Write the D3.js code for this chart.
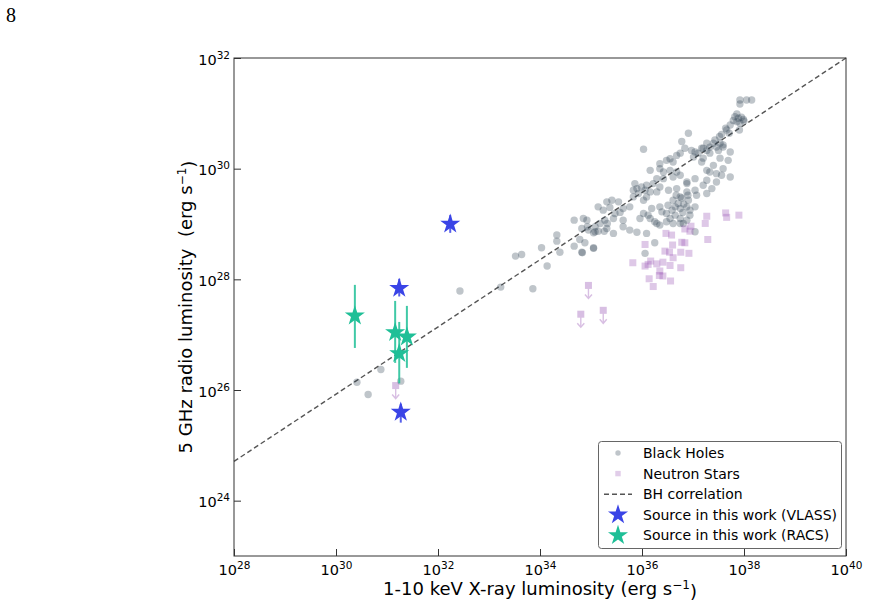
<!DOCTYPE html>
<html><head><meta charset="utf-8">
<script src="https://cdn.jsdelivr.net/npm/d3@7"></script>
<style>body{margin:0;background:#fff}svg{display:block}.s{font-family:"DejaVu Sans",sans-serif}</style>
</head><body><svg id="c" width="871" height="604"></svg>
<script>
// log10 luminosities [Lx, Lr]
const blackHoles = [
[37.92,31.24],[38.05,31.24],[38.15,31.24],[37.92,31.17],[37.82,30.94],[37.89,30.91],[37.95,30.93],[37.86,30.85],[37.92,30.82],[37.99,30.89],
[37.79,30.87],[37.91,30.70],[37.73,30.79],[37.66,30.70],[37.56,30.62],[37.52,30.58],[37.43,30.52],[37.40,30.46],[37.53,30.46],[37.59,30.39],
[37.73,30.30],[37.50,30.33],[37.33,30.39],[37.17,30.37],[37.10,30.28],[37.04,30.30],[37.01,30.21],[36.91,30.64],[36.78,30.49],[36.84,30.37],
[36.97,30.33],[37.20,30.19],[37.53,30.19],[37.69,30.15],[36.03,30.35],[36.68,30.24],[36.75,30.28],[36.55,30.18],[36.48,30.15],[36.61,30.12],
[36.35,30.09],[37.27,30.33],[37.17,30.12],[37.46,30.39],[37.40,30.06],[37.27,29.97],[37.33,29.94],[37.59,30.00],[37.46,29.91],[37.56,29.88],
[37.73,29.85],[36.16,29.97],[36.35,30.00],[36.42,29.94],[36.55,29.97],[36.68,29.94],[36.29,29.82],[36.22,29.73],[36.42,29.82],[36.61,29.85],
[36.75,29.88],[36.88,29.76],[37.04,29.82],[37.27,29.79],[37.20,29.70],[37.37,29.64],[37.27,29.55],[37.46,29.76],[37.07,29.52],[36.09,29.70],
[35.99,29.67],[35.90,29.64],[35.83,29.61],[36.06,29.61],[36.29,29.58],[36.35,29.67],[36.52,29.61],[36.68,29.64],[36.88,29.73],[36.88,29.58],
[37.04,29.61],[36.75,29.49],[36.61,29.43],[36.71,29.37],[36.65,29.31],[36.75,29.28],[36.88,29.31],[36.91,29.43],[37.04,29.31],[36.35,29.31],
[36.39,29.22],[36.19,29.28],[36.12,29.16],[36.03,29.19],[35.96,29.10],[36.16,29.10],[36.25,29.04],[36.35,28.98],[36.48,29.19],[36.55,29.10],
[36.65,29.16],[36.75,29.10],[36.94,29.16],[36.81,29.01],[36.61,29.01],[36.48,29.04],[35.76,29.31],[35.63,29.28],[35.47,29.19],[35.44,29.10],
[35.27,29.07],[35.18,29.01],[35.08,28.95],[34.95,28.89],[34.92,29.07],[34.82,28.92],[35.31,28.92],[35.63,28.95],[35.76,28.89],[35.41,29.43],
[35.54,29.40],[35.31,29.40],[35.14,29.31],[35.24,29.25],[35.83,29.49],[35.93,29.55],[36.09,29.49],[36.03,29.43],[36.16,29.58],[35.86,29.73],
[37.64,30.73],[37.71,30.64],[37.59,30.43],[37.27,30.46],[37.20,30.37],[37.33,30.28],[34.85,29.10],[35.08,28.86],[34.82,28.49],[35.05,28.56],
[35.44,28.83],[35.63,29.07],[35.90,28.85],[36.09,28.83],[36.25,28.66],[36.06,28.47],[36.29,29.01],[37.04,28.86],[36.88,29.07],[36.75,29.01],
[33.23,27.86],[33.86,27.83],[34.14,28.24],[33.52,28.42],[33.64,28.45],[34.03,28.57],[34.33,28.80],[34.33,28.69],[34.39,28.49],[34.67,28.60],
[34.78,28.72],[34.88,28.66],[34.83,28.48],[35.05,28.57],[34.67,29.07],[34.93,28.95],[35.05,28.84],[35.14,28.87],[35.26,28.87],[35.32,29.01],
[32.43,27.79],[30.88,26.37],[30.41,26.14],[30.63,25.92],[31.27,26.16],
[36.78,29.47],[36.82,29.36],[36.59,29.25],[36.94,29.25],[36.51,29.34],[36.80,29.21],[36.67,29.52],[36.90,29.52],[37.86,30.99],[38.00,30.86],
[35.37,29.30],[35.57,29.21]
];
const neutronStars = [
[37.27,29.14],[37.64,29.20],[37.66,29.12],[37.90,29.16],[37.24,29.01],[36.96,28.96],[36.84,28.91],[36.94,28.87],[37.29,28.72],[36.47,28.83],
[36.58,28.80],[36.78,28.67],[36.84,28.66],[36.60,28.62],[36.06,28.63],[36.45,28.51],[36.54,28.49],[36.76,28.49],[36.92,28.47],[36.61,28.39],
[35.82,28.30],[36.17,28.33],[36.12,28.27],[36.29,28.28],[36.41,28.31],[36.06,28.24],[36.55,28.25],[36.76,28.21],[36.35,28.15],[36.34,28.07],
[36.41,28.06],[36.14,28.01],[36.56,27.97],[36.22,27.87]
];
const nsUpperLimits = [[34.95,27.89],[34.80,27.37],[35.24,27.44],[31.17,26.08]];
const bhCorrelation = [[28,24.71],[40,32]];
// [Lx, Lr, Lr_low, Lr_high]
const vlassSources = [[32.24,29.00,28.84,29.16],[31.24,27.84,27.69,28.01],[31.27,25.60,25.41,25.75]];
const racsSources = [[30.37,27.34,26.76,27.90],[31.16,27.04,26.49,27.61],[31.39,26.96,26.40,27.52],[31.24,26.66,26.12,27.23]];
const xTickExps = [28,30,32,34,36,38,40];
const yTickExps = [24,26,28,30,32];
const legendLabels = ["Black Holes","Neutron Stars","BH correlation","Source in this work (VLASS)","Source in this work (RACS)"];

const C = {bh:"#2c3e50", ns:"#9b59b6", vlass:"#3a44e6", racs:"#1fbf97", line:"#555"};
const svg = d3.select("#c");
const L=234,R=846,T=58,B=556;
const x = d3.scaleLog().domain([1e28,1e40]).range([L,R]);
const y = d3.scaleLog().domain([1e23,1e32]).range([B,T]);
const px = v=>x(Math.pow(10,v)), py = v=>y(Math.pow(10,v));

svg.append("text").attr("x",6).attr("y",22).style("font-family","'Liberation Serif','DejaVu Serif',serif").attr("font-size",20).text("8");

const plot = svg.append("g");
plot.append("line").attr("x1",px(bhCorrelation[0][0])).attr("y1",py(bhCorrelation[0][1]))
  .attr("x2",px(bhCorrelation[1][0])).attr("y2",py(bhCorrelation[1][1]))
  .attr("stroke",C.line).attr("stroke-width",1.4).attr("stroke-dasharray","5,3");
plot.selectAll("circle.bh").data(blackHoles).join("circle").attr("class","bh")
  .attr("cx",d=>px(d[0])).attr("cy",d=>py(d[1])).attr("r",3.7)
  .attr("fill",C.bh).attr("fill-opacity",0.3);
const sq=7;
plot.selectAll("rect.ns").data(neutronStars).join("rect").attr("class","ns")
  .attr("x",d=>px(d[0])-sq/2).attr("y",d=>py(d[1])-sq/2).attr("width",sq).attr("height",sq)
  .attr("fill",C.ns).attr("fill-opacity",0.33);
const ul = plot.selectAll("g.ul").data(nsUpperLimits).join("g").attr("class","ul")
  .attr("transform",d=>`translate(${px(d[0])},${py(d[1])})`).attr("opacity",0.38);
ul.append("rect").attr("x",-sq/2).attr("y",-sq/2).attr("width",sq).attr("height",sq).attr("fill",C.ns);
ul.append("line").attr("x1",0).attr("y1",0).attr("x2",0).attr("y2",12.5).attr("stroke",C.ns).attr("stroke-width",1.4);
ul.append("path").attr("d","M-3.5,9 L0,13 L3.5,9").attr("fill","none").attr("stroke",C.ns).attr("stroke-width",1.4);
const star = d3.symbol().type(d3.symbolStar).size(125);
function sources(data,col){
  const g = plot.append("g");
  g.selectAll("line").data(data).join("line")
    .attr("x1",d=>px(d[0])).attr("x2",d=>px(d[0])).attr("y1",d=>py(d[2])).attr("y2",d=>py(d[3]))
    .attr("stroke",col).attr("stroke-width",2).attr("stroke-opacity",0.85);
  g.selectAll("path").data(data).join("path").attr("d",star)
    .attr("transform",d=>`translate(${px(d[0])},${py(d[1])})`).attr("fill",col);
}
sources(vlassSources,C.vlass);
sources(racsSources,C.racs);

svg.append("rect").attr("x",L).attr("y",T).attr("width",R-L).attr("height",B-T).attr("fill","none").attr("stroke","#333").attr("stroke-width",1);

function supLabel(sel){
  sel.each(function(d){
    const t=d3.select(this); const e=Math.round(Math.log10(d));
    t.text(null).attr("class","s");
    t.append("tspan").text("10");
    t.append("tspan").attr("dy","-0.55em").attr("font-size","10.5px").text(e);
  });
}
const xa = svg.append("g").attr("transform",`translate(0,${B})`)
  .call(d3.axisBottom(x).tickValues(xTickExps.map(e=>Math.pow(10,e))).tickSizeInner(-7).tickSizeOuter(0).tickPadding(5));
xa.select(".domain").remove();
xa.selectAll(".tick line").attr("stroke","#333");
xa.selectAll(".tick text").attr("font-size","14.5px").attr("fill","#000").attr("dy","0.95em").call(supLabel);
const ya = svg.append("g").attr("transform",`translate(${L},0)`)
  .call(d3.axisLeft(y).tickValues(yTickExps.map(e=>Math.pow(10,e))).tickSizeInner(-7).tickSizeOuter(0).tickPadding(4));
ya.select(".domain").remove();
ya.selectAll(".tick line").attr("stroke","#333");
ya.selectAll(".tick text").attr("font-size","14.5px").attr("fill","#000").attr("dy","0.42em").call(supLabel);

const xt = svg.append("text").attr("class","s").attr("x",(L+R)/2).attr("y",595).attr("text-anchor","middle").attr("font-size","18px");
xt.append("tspan").text("1-10 keV X-ray luminosity (erg s");
xt.append("tspan").attr("dy","-0.5em").attr("font-size","12px").text("−1");
xt.append("tspan").attr("dy","0.5em").text(")");
const yt = svg.append("text").attr("class","s").attr("transform",`translate(192,${(T+B)/2}) rotate(-90)`).attr("text-anchor","middle").attr("font-size","18px");
yt.append("tspan").text("5 GHz radio luminosity\u00a0\u00a0(erg s");
yt.append("tspan").attr("dy","-0.5em").attr("font-size","12px").text("−1");
yt.append("tspan").attr("dy","0.5em").text(")");

const lg = svg.append("g");
lg.append("rect").attr("x",598.5).attr("y",441.5).attr("width",243).attr("height",107).attr("rx",3)
  .attr("fill","#fff").attr("stroke","#666").attr("stroke-width",1);
const ly0=453, ldy=20.6, mx=618, tx=643;
legendLabels.forEach((lab,i)=>{
  const yy=ly0+i*ldy;
  if(i===0) lg.append("circle").attr("cx",mx).attr("cy",yy).attr("r",2.7).attr("fill",C.bh).attr("fill-opacity",0.3);
  if(i===1) lg.append("rect").attr("x",mx-2.7).attr("y",yy-2.7).attr("width",5.4).attr("height",5.4).attr("fill",C.ns).attr("fill-opacity",0.3);
  if(i===2) lg.append("line").attr("x1",604).attr("x2",632).attr("y1",yy).attr("y2",yy).attr("stroke",C.line).attr("stroke-width",1.4).attr("stroke-dasharray","5,3");
  if(i===3) lg.append("path").attr("d",star).attr("transform",`translate(${mx},${yy})`).attr("fill",C.vlass);
  if(i===4) lg.append("path").attr("d",star).attr("transform",`translate(${mx},${yy})`).attr("fill",C.racs);
  lg.append("text").attr("class","s").attr("x",tx).attr("y",yy).attr("dy","0.36em").attr("font-size","14px").text(lab);
});
</script></body></html>
